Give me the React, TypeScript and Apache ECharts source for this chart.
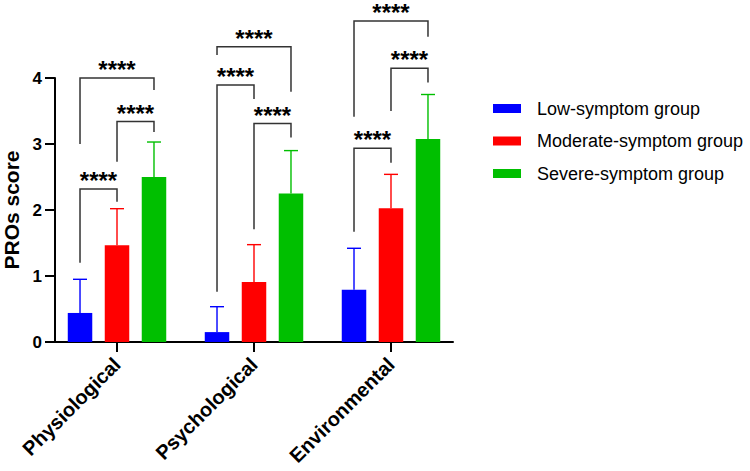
import React, { useEffect, useRef } from "react";
import * as echarts from "echarts";

const categories = ["Physiological", "Psychological", "Environmental"];
const groupNames = ["Low-symptom group", "Moderate-symptom group", "Severe-symptom group"];
const groupColors = ["#0000FF", "#FF0000", "#00BF00"];
const groupOffsets = [-0.27, 0, 0.27];

const lowMeans = [0.44, 0.15, 0.79];
const lowUpper = [0.95, 0.535, 1.42];
const moderateMeans = [1.465, 0.91, 2.025];
const moderateUpper = [2.02, 1.475, 2.54];
const severeMeans = [2.5, 2.25, 3.075];
const severeUpper = [3.03, 2.9, 3.75];

const yTicks = [0, 1, 2, 3, 4];

// significance brackets (category, from group, to group, leg bottoms, top)
const bracketCategory = [0, 0, 0, 1, 1, 1, 2, 2, 2];
const bracketFrom = [0, 1, 0, 0, 1, 0, 0, 1, 0];
const bracketTo = [1, 2, 2, 1, 2, 2, 1, 2, 2];
const bracketLeftBottom = [1.2, 2.73, 3.0, 0.762, 1.71, 4.35, 1.67, 3.5, 3.414];
const bracketRightBottom = [2.125, 3.18, 3.82, 3.68, 3.1, 3.79, 2.717, 3.93, 4.626];
const bracketTop = [2.318, 3.34, 4.0, 3.894, 3.31, 4.475, 2.934, 4.146, 4.864];
const bracketLabels = ["****", "****", "****", "****", "****", "****", "****", "****", "****"];

const FONT = "'Liberation Sans', Arial, Helvetica, sans-serif";

export default function App() {
  const ref = useRef<HTMLDivElement>(null);

  useEffect(() => {
    document.body.style.margin = "0";
    if (!ref.current) return;
    const chart = echarts.init(ref.current, undefined, { renderer: "svg" });

    const means = [lowMeans, moderateMeans, severeMeans];
    const uppers = [lowUpper, moderateUpper, severeUpper];

    const barSeries = groupNames.map((name, g) => ({
      name,
      type: "bar",
      barWidth: 24.5,
      barGap: "-100%",
      itemStyle: { color: groupColors[g] },
      data: means[g].map((v, i) => [i + groupOffsets[g], v]),
      z: 2,
    }));

    const errorSeries = groupNames.map((name, g) => ({
      name: name + " error",
      type: "custom",
      clip: false,
      z: 3,
      data: means[g].map((v, i) => [i + groupOffsets[g], v, uppers[g][i]]),
      renderItem: (params: any, api: any) => {
        const x = api.value(0);
        const p0 = api.coord([x, api.value(1)]);
        const p1 = api.coord([x, api.value(2)]);
        const style = { stroke: groupColors[g], lineWidth: 1.4 };
        return {
          type: "group",
          children: [
            { type: "line", shape: { x1: p0[0], y1: p0[1], x2: p1[0], y2: p1[1] }, style },
            { type: "line", shape: { x1: p1[0] - 7, y1: p1[1], x2: p1[0] + 7, y2: p1[1] }, style },
          ],
        };
      },
    }));

    const bracketData = bracketCategory.map((c, k) => [
      c + groupOffsets[bracketFrom[k]],
      c + groupOffsets[bracketTo[k]],
      bracketLeftBottom[k],
      bracketRightBottom[k],
      bracketTop[k],
      k,
    ]);

    const bracketSeries = {
      name: "brackets",
      type: "custom",
      clip: false,
      z: 4,
      data: bracketData,
      renderItem: (params: any, api: any) => {
        const xl = api.value(0);
        const xr = api.value(1);
        const a = api.coord([xl, api.value(2)]);
        const b = api.coord([xl, api.value(4)]);
        const c = api.coord([xr, api.value(4)]);
        const d = api.coord([xr, api.value(3)]);
        const k = api.value(5);
        return {
          type: "group",
          children: [
            {
              type: "polyline",
              shape: { points: [a, b, c, d] },
              style: { stroke: "#333333", lineWidth: 1.5, fill: null },
            },
            {
              type: "text",
              x: (b[0] + c[0]) / 2,
              y: b[1] - 8.5,
              style: {
                text: bracketLabels[k],
                fill: "#000",
                font: `bold 24px ${FONT}`,
                align: "center",
                verticalAlign: "middle",
              },
            },
          ],
        };
      },
    };

    chart.setOption({
      animation: false,
      backgroundColor: "#fff",
      textStyle: { fontFamily: FONT },
      grid: {
        left: 55,
        right: 297,
        top: 78,
        bottom: 129,
        containLabel: false,
        outerBoundsMode: "none",
      },
      legend: {
        orient: "vertical",
        left: 493,
        top: 99.5,
        padding: 0,
        data: groupNames,
        icon: "rect",
        itemWidth: 28,
        itemHeight: 9,
        itemGap: 14.5,
        textStyle: { fontSize: 18, color: "#000", fontFamily: FONT, padding: [0, 0, 0, 11] },
      },
      xAxis: {
        type: "value",
        min: -0.4526,
        max: 2.4526,
        splitLine: { show: false },
        axisLine: { show: true, onZero: false, lineStyle: { color: "#000", width: 2 } },
        axisTick: {
          show: true,
          customValues: [0, 1, 2],
          length: 10,
          lineStyle: { color: "#000", width: 2 },
        },
        axisLabel: {
          show: true,
          customValues: [0, 1, 2],
          formatter: (v: number) => categories[Math.round(v)],
          rotate: 45,
          margin: 19,
          fontSize: 20,
          fontWeight: "bold",
          color: "#000",
          fontFamily: FONT,
        },
      },
      yAxis: {
        type: "value",
        min: 0,
        max: 4,
        interval: 1,
        name: "PROs score",
        nameLocation: "middle",
        nameGap: 33,
        nameTextStyle: { fontSize: 21, fontWeight: "bold", color: "#000", fontFamily: FONT },
        splitLine: { show: false },
        axisLine: { show: true, onZero: false, lineStyle: { color: "#000", width: 2 } },
        axisTick: { show: true, length: 10, lineStyle: { color: "#000", width: 2 } },
        axisLabel: {
          formatter: (v: number) => (yTicks.includes(v) ? String(v) : ""),
          margin: 13,
          fontSize: 17,
          fontWeight: "bold",
          color: "#000",
          fontFamily: FONT,
        },
      },
      series: [...barSeries, ...errorSeries, bracketSeries],
    });

    return () => chart.dispose();
  }, []);

  return (
    <div
      ref={ref}
      style={{ position: "fixed", left: 0, top: 0, width: 750, height: 471 }}
    />
  );
}
